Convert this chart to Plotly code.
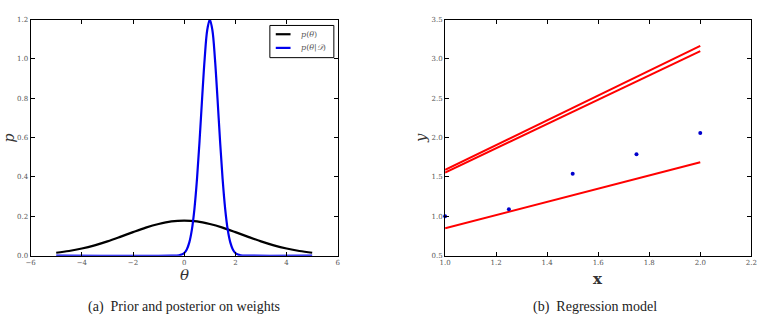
import plotly.graph_objects as go

# ---- data ----
theta_prior = [-5.0, -4.5, -4.0, -3.5, -3.0, -2.5, -2.0, -1.5, -1.0, -0.5, 0.0,
               0.5, 1.0, 1.5, 2.0, 2.5, 3.0, 3.5, 4.0, 4.5, 5.0]
p_prior = [0.0146, 0.0236, 0.036, 0.0524, 0.0725, 0.0955, 0.1196, 0.1425, 0.161, 0.174, 0.178,
           0.174, 0.161, 0.1425, 0.1196, 0.0955, 0.0725, 0.0524, 0.036, 0.0236, 0.0146]

theta_post = [-5.0, -0.5, -0.2, -0.1, 0.0, 0.1, 0.2, 0.3, 0.4, 0.5, 0.6, 0.7, 0.8, 0.9, 1.0,
              1.1, 1.2, 1.3, 1.4, 1.5, 1.6, 1.7, 1.8, 1.9, 2.0, 2.1, 2.2, 2.5, 5.0]
p_post = [0.0, 0.0, 0.0018, 0.0052, 0.0133, 0.0313, 0.0674, 0.132, 0.238, 0.390, 0.584, 0.800,
          1.002, 1.147, 1.2, 1.147, 1.002, 0.800, 0.584, 0.390, 0.238, 0.132, 0.0674, 0.0313,
          0.0133, 0.0052, 0.0018, 0.0, 0.0]

x_data = [1.0, 1.25, 1.5, 1.75, 2.0]
y_data = [1.0, 1.09, 1.54, 1.79, 2.06]

line_x = [1.0, 2.0]
line_a = [1.59, 3.165]
line_b = [1.555, 3.10]
line_c = [0.847, 1.686]

left_xticks = [-6, -4, -2, 0, 2, 4, 6]
left_yticks = [0.0, 0.2, 0.4, 0.6, 0.8, 1.0, 1.2]
right_xticks = [1.0, 1.2, 1.4, 1.6, 1.8, 2.0, 2.2]
right_yticks = [0.5, 1.0, 1.5, 2.0, 2.5, 3.0, 3.5]

legend_labels = ["<i>p</i>(<i>θ</i>)", "<i>p</i>(<i>θ</i>|<i>𝒟</i>)"]
legend_colors = ["black", "#0000ee"]

W, H = 777, 324
SERIF = "DejaVu Serif, Liberation Serif, serif"
TICKFONT = dict(family=SERIF, size=7, color="#555555")

fig = go.Figure()
fig.add_trace(go.Scatter(x=theta_prior, y=p_prior, mode="lines", line=dict(color=legend_colors[0], width=2.2, shape="spline"),
                         showlegend=False, xaxis="x", yaxis="y"))
fig.add_trace(go.Scatter(x=theta_post, y=p_post, mode="lines", line=dict(color=legend_colors[1], width=2.2, shape="spline"),
                         showlegend=False, xaxis="x", yaxis="y"))

for ys in (line_a, line_b, line_c):
    fig.add_trace(go.Scatter(x=line_x, y=ys, mode="lines", line=dict(color="#ff0000", width=2),
                             showlegend=False, xaxis="x2", yaxis="y2"))
fig.add_trace(go.Scatter(x=x_data, y=y_data, mode="markers", marker=dict(color="#0000cc", size=4),
                         showlegend=False, xaxis="x2", yaxis="y2", cliponaxis=False))

ax_common = dict(showgrid=False, zeroline=False, showline=True, linecolor="black", linewidth=1.2,
                 mirror="ticks", ticks="inside", ticklen=4, tickcolor="black", tickwidth=1,
                 tickfont=TICKFONT)

ydom = [(H - 258) / H, (H - 16) / H]
fig.update_layout(
    width=W, height=H, margin=dict(l=0, r=0, t=0, b=0),
    paper_bgcolor="white", plot_bgcolor="white",
    xaxis=dict(domain=[25 / W, 337 / W], range=[-6, 6], tickvals=left_xticks,
               ticktext=[("−" + str(-v)) if v < 0 else str(v) for v in left_xticks], anchor="y", **ax_common),
    yaxis=dict(domain=ydom, range=[0, 1.2], tickvals=left_yticks, tickformat=".1f", anchor="x", **ax_common),
    xaxis2=dict(domain=[446 / W, 757 / W], range=[1.0, 2.2], tickvals=right_xticks, tickformat=".1f",
                anchor="y2", **ax_common),
    yaxis2=dict(domain=ydom, range=[0.5, 3.5], tickvals=right_yticks, tickformat=".1f", anchor="x2", **ax_common),
    showlegend=False,
)

# manual legend box (pixel positions converted to paper coords)
def px(xp):
    return xp / W

def py(yp):
    return 1 - yp / H

fig.add_shape(type="rect", xref="paper", yref="paper", x0=px(268), x1=px(333), y0=py(55), y1=py(22),
              line=dict(color="black", width=1), fillcolor="white")
for i, (lab, col) in enumerate(zip(legend_labels, legend_colors)):
    yc = 31 + i * 14
    fig.add_shape(type="line", xref="paper", yref="paper", x0=px(274), x1=px(289), y0=py(yc), y1=py(yc),
                  line=dict(color=col, width=2.2))
    fig.add_annotation(xref="paper", yref="paper", x=px(298), y=py(yc), text=lab, showarrow=False,
                       xanchor="left", yanchor="middle", font=dict(family=SERIF, size=8, color="#555555"))

annos = [
    dict(x=181 / W, y=1 - 278 / H, text="<i>θ</i>", font=dict(family=SERIF, size=15, color="#333333")),
    dict(x=3 / W, y=1 - 137 / H, text="<i>p</i>", textangle=-90, font=dict(family=SERIF, size=14, color="#333333")),
    dict(x=601 / W, y=1 - 282 / H, text="<b>x</b>", font=dict(family=SERIF, size=15, color="#333333")),
    dict(x=421 / W, y=1 - 137 / H, text="<i>y</i>", textangle=-90, font=dict(family=SERIF, size=15, color="#333333")),
    dict(x=181 / W, y=1 - 311 / H, text="(a)  Prior and posterior on weights", font=dict(family="Liberation Serif, serif", size=14, color="#222222")),
    dict(x=598 / W, y=1 - 311 / H, text="(b)  Regression model", font=dict(family="Liberation Serif, serif", size=14, color="#222222")),
]
for a in annos:
    fig.add_annotation(xref="paper", yref="paper", showarrow=False, xanchor="center", yanchor="middle", **a)

fig.write_html("out.html")
